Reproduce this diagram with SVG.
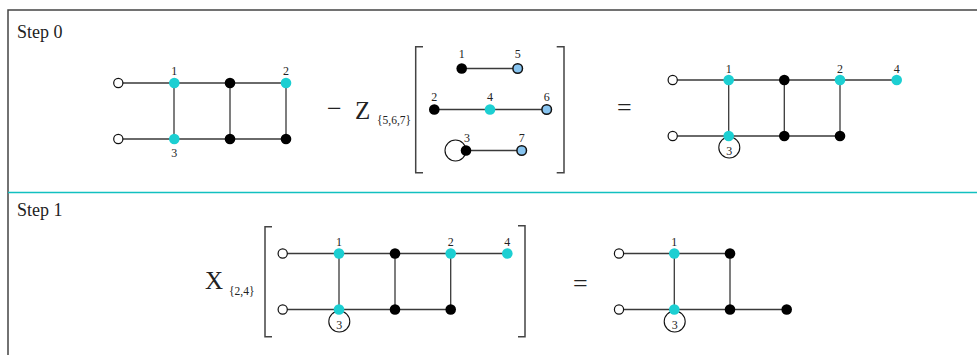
<svg xmlns="http://www.w3.org/2000/svg" width="977" height="355" viewBox="0 0 977 355">
<style>
.frame{fill:none;stroke:#444;stroke-width:1.5}
.div{stroke:#12c0c0;stroke-width:1.5}
.e{stroke:#3a3a3a;stroke-width:1.3;fill:none}
.br{stroke:#444;stroke-width:1.5;fill:none}
.o{fill:#fff;stroke:#111;stroke-width:1.2}
.c{fill:#1ccfd2}
.k{fill:#000}
.b{fill:#87c4f0;stroke:#111;stroke-width:1.5}
.ring{fill:none;stroke:#111;stroke-width:1.1}
text{font-family:"Liberation Serif","Times New Roman",serif;fill:#222}
.lb{font-size:12px;text-anchor:middle}
.step{font-size:18px}
.big{font-size:25px}
.sub{font-size:11.5px}
.op{font-size:26px}
</style>
<g id="frame">
<path class="frame" d="M8,355 V10 H977"/>
<line class="div" x1="8" y1="192.5" x2="977" y2="192.5"/>
<text class="step" x="17" y="38">Step 0</text>
<text class="step" x="17" y="216">Step 1</text>
</g>
<g id="connectors">
<!-- graph A -->
<path class="e" d="M118,83 H286 M118,139 H286 M174,83 V139 M230,83 V139 M286,83 V139"/>
<!-- Z contents -->
<path class="e" d="M462,68.5 H517.5 M434.5,109.5 H546.5 M466,150.5 H521.5"/>
<circle class="ring" cx="455.5" cy="150.5" r="10.5"/>
<!-- graph C -->
<path class="e" d="M672.5,80 H896.5 M672.5,136 H840 M728.7,80 V136 M784.3,80 V136 M840,80 V136"/>
<!-- graph D -->
<path class="e" d="M282.7,253.5 H507.3 M282.7,309.5 H450.7 M339,253.5 V309.5 M395,253.5 V309.5 M450.7,253.5 V309.5"/>
<!-- graph E -->
<path class="e" d="M619,253.5 H730 M619,309.5 H786.7 M674.3,253.5 V309.5 M730,253.5 V309.5"/>
<!-- brackets -->
<path class="br" d="M423,46.7 H415.7 V172.7 H423 M556.7,46.7 H564 V172.7 H556.7"/>
<path class="br" d="M272,226.7 H265 V336.7 H272 M518,225.7 H525 V336.7 H518"/>
</g>
<g id="operators">
<text class="op" x="327" y="117">−</text>
<text class="big" x="355" y="119">Z</text>
<text class="sub" x="377" y="124">{5,6,7}</text>
<text class="op" x="617" y="116">=</text>
<text class="big" x="205" y="289">X</text>
<text class="sub" x="229" y="295">{2,4}</text>
<text class="op" x="573" y="292">=</text>
</g>
<!-- Graph A nodes -->
<g id="A-in1"><circle class="o" cx="118.3" cy="83" r="4.6"/></g>
<g id="A-in2"><circle class="o" cx="118.3" cy="139" r="4.6"/></g>
<g id="A-n1"><circle class="c" cx="174.3" cy="83" r="5.3"/><text class="lb" x="174.3" y="75">1</text></g>
<g id="A-t2"><circle class="k" cx="230" cy="83" r="5.3"/></g>
<g id="A-n2"><circle class="c" cx="286" cy="83" r="5.3"/><text class="lb" x="286" y="75">2</text></g>
<g id="A-n3"><circle class="c" cx="174.3" cy="139" r="5.3"/><text class="lb" x="174.3" y="157">3</text></g>
<g id="A-b2"><circle class="k" cx="230" cy="139" r="5.3"/></g>
<g id="A-b3"><circle class="k" cx="286" cy="139" r="5.3"/></g>
<!-- Z nodes -->
<g id="Z-1"><circle class="k" cx="461.7" cy="68.5" r="5.3"/><text class="lb" x="461.7" y="58">1</text></g>
<g id="Z-5"><circle class="b" cx="517.7" cy="68.5" r="4.8"/><text class="lb" x="517.7" y="58">5</text></g>
<g id="Z-2"><circle class="k" cx="434.3" cy="109.5" r="5.3"/><text class="lb" x="434.3" y="101">2</text></g>
<g id="Z-4"><circle class="c" cx="490" cy="109.5" r="5.3"/><text class="lb" x="490" y="101">4</text></g>
<g id="Z-6"><circle class="b" cx="546.7" cy="109.5" r="4.8"/><text class="lb" x="546.7" y="101">6</text></g>
<g id="Z-3"><circle class="k" cx="466" cy="150.5" r="5.3"/><text class="lb" x="467" y="142">3</text></g>
<g id="Z-7"><circle class="b" cx="521.7" cy="150.5" r="4.8"/><text class="lb" x="521.7" y="142">7</text></g>
<!-- Graph C nodes -->
<g id="C-in1"><circle class="o" cx="672.7" cy="80" r="4.6"/></g>
<g id="C-in2"><circle class="o" cx="672.7" cy="136" r="4.6"/></g>
<g id="C-n3"><circle class="ring" cx="729.3" cy="147.5" r="10.5"/><circle class="c" cx="728.7" cy="136" r="5.3"/><text class="lb" x="729.3" y="155">3</text></g>
<g id="C-n1"><circle class="c" cx="728.7" cy="80" r="5.3"/><text class="lb" x="728.7" y="72.5">1</text></g>
<g id="C-t2"><circle class="k" cx="784.3" cy="80" r="5.3"/></g>
<g id="C-n2"><circle class="c" cx="840" cy="80" r="5.3"/><text class="lb" x="840" y="72.5">2</text></g>
<g id="C-n4"><circle class="c" cx="896.7" cy="80" r="5.3"/><text class="lb" x="896.7" y="72.5">4</text></g>
<g id="C-b2"><circle class="k" cx="784.3" cy="136" r="5.3"/></g>
<g id="C-b3"><circle class="k" cx="840" cy="136" r="5.3"/></g>
<!-- Graph D nodes -->
<g id="D-in1"><circle class="o" cx="282.7" cy="253.5" r="4.6"/></g>
<g id="D-in2"><circle class="o" cx="282.7" cy="309.5" r="4.6"/></g>
<g id="D-n3"><circle class="ring" cx="339.3" cy="321.5" r="10.5"/><circle class="c" cx="339" cy="309.5" r="5.3"/><text class="lb" x="339.3" y="329">3</text></g>
<g id="D-n1"><circle class="c" cx="339" cy="253.5" r="5.3"/><text class="lb" x="339" y="245.7">1</text></g>
<g id="D-t2"><circle class="k" cx="395" cy="253.5" r="5.3"/></g>
<g id="D-n2"><circle class="c" cx="450.7" cy="253.5" r="5.3"/><text class="lb" x="450.7" y="245.7">2</text></g>
<g id="D-n4"><circle class="c" cx="507.3" cy="253.5" r="5.3"/><text class="lb" x="507.3" y="245.7">4</text></g>
<g id="D-b2"><circle class="k" cx="395" cy="309.5" r="5.3"/></g>
<g id="D-b3"><circle class="k" cx="450.7" cy="309.5" r="5.3"/></g>
<!-- Graph E nodes -->
<g id="E-in1"><circle class="o" cx="619" cy="253.5" r="4.6"/></g>
<g id="E-in2"><circle class="o" cx="619" cy="309.5" r="4.6"/></g>
<g id="E-n3"><circle class="ring" cx="674.7" cy="321.5" r="10.5"/><circle class="c" cx="674.3" cy="309.5" r="5.3"/><text class="lb" x="674.7" y="329">3</text></g>
<g id="E-n1"><circle class="c" cx="674.3" cy="253.5" r="5.3"/><text class="lb" x="674.3" y="245.5">1</text></g>
<g id="E-t2"><circle class="k" cx="730" cy="253.5" r="5.3"/></g>
<g id="E-b2"><circle class="k" cx="730" cy="309.5" r="5.3"/></g>
<g id="E-b3"><circle class="k" cx="786.7" cy="309.5" r="5.3"/></g>
</svg>
